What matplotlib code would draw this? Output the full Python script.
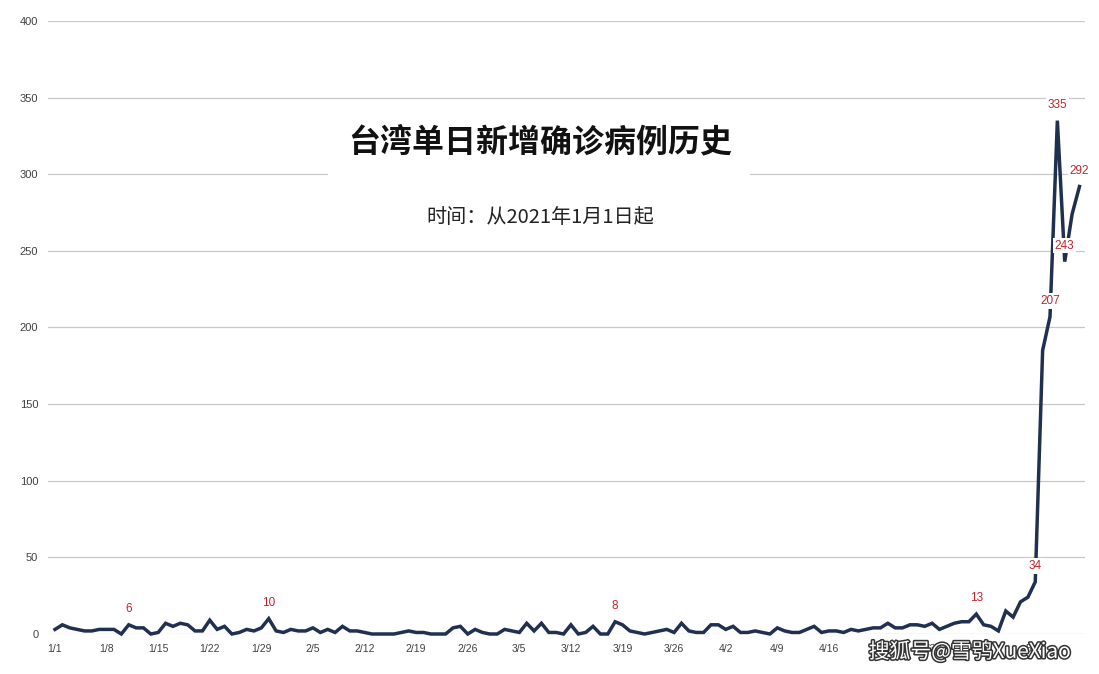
import matplotlib
matplotlib.use("Agg")
import matplotlib.pyplot as plt
import matplotlib.patheffects as pe
from matplotlib.patches import Rectangle
import pandas as pd

plt.rcParams['font.family'] = ['Noto Sans CJK SC', 'DejaVu Sans']

start_date = '2021-01-01'
cases_jan = [3, 6, 4, 3, 2, 2, 3, 3, 3, 0, 6, 4, 4, 0, 1, 7, 5, 7, 6, 2, 2, 9, 3, 5, 0, 1, 3, 2, 4, 10, 2]
cases_feb_mar4 = [1, 3, 2, 2, 4, 1, 3, 1, 5, 2, 2, 1, 0, 0, 0, 0, 1, 2, 1, 1, 0, 0, 0, 4, 5, 0, 3, 1, 0, 0, 3, 2]
cases_mar5_apr5 = [1, 7, 2, 7, 1, 1, 0, 6, 0, 1, 5, 0, 0, 8, 6, 2, 1, 0, 1, 2, 3, 1, 7, 2, 1, 1, 6, 6, 3, 5, 1, 1]
cases_apr6_may14 = [2, 1, 0, 4, 2, 1, 1, 3, 5, 1, 2, 2, 1, 3, 2, 3, 4, 4, 7, 4, 4, 6, 6, 5, 7, 3, 5, 7, 8, 8,
                    13, 6, 5, 2, 15, 11, 21, 24, 34]
cases_may15_20 = [185, 207, 335, 243, 274, 292]
cases = cases_jan + cases_feb_mar4 + cases_mar5_apr5 + cases_apr6_may14 + cases_may15_20

labeled_dates = ['2021-01-11', '2021-01-30', '2021-03-18', '2021-05-06', '2021-05-14',
                 '2021-05-16', '2021-05-17', '2021-05-18', '2021-05-20']

y_ticks = [0, 50, 100, 150, 200, 250, 300, 350, 400]
title = '台湾单日新增确诊病例历史'
subtitle = '时间：从2021年1月1日起'
watermark = '搜狐号@雪鸮XueXiao'

dates = pd.date_range(start_date, periods=len(cases))
x = list(range(len(cases)))
tick_pos = x[::7]
tick_labels = [f"{dates[i].month}/{dates[i].day}" for i in tick_pos]

W, H = 1099, 674
fig = plt.figure(figsize=(W / 100, H / 100), dpi=100)
ax = fig.add_axes([48 / W, 1 - 634 / H, (1085 - 48) / W, (634 - 21) / H])

lat = ['Liberation Sans', 'DejaVu Sans']
line_color = '#1F3050'
label_color = '#C0262D'

ax.plot(x, cases, color=line_color, lw=2.5, solid_joinstyle='miter', zorder=3, clip_on=False)

for d in labeled_dates:
    i = list(dates).index(pd.Timestamp(d))
    ax.annotate(str(cases[i]), (x[i], cases[i]), xytext=(0, 11.5), textcoords='offset points',
                ha='center', va='center', fontsize=8.5, color=label_color, family=lat,
                bbox=dict(boxstyle='square,pad=0.15', fc='white', ec='none'), zorder=4)

ax.set_xlim(-0.95, 139.75)
ax.set_ylim(0, 400)
ax.set_yticks(y_ticks)
ax.set_yticklabels([str(t) for t in y_ticks], family=lat, fontsize=8, color='#404040')
ax.set_xticks(tick_pos)
ax.set_xticklabels(tick_labels, family=lat, fontsize=7.5, color='#404040')
ax.tick_params(axis='both', length=0)
ax.tick_params(axis='y', pad=7)
ax.tick_params(axis='x', pad=7)
ax.grid(axis='y', color='#C8C8C8', lw=0.9)
ax.set_axisbelow(True)
for s in ax.spines.values():
    s.set_visible(False)

# title area with white background
fig.add_artist(Rectangle((328 / W, 1 - 240 / H), (750 - 328) / W, (240 - 110) / H,
                         transform=fig.transFigure, fc='white', ec='none', zorder=2))
fig.text(540 / W, 1 - 142 / H, title, ha='center', va='center', fontsize=23,
         fontweight='bold', color='#111111', zorder=3)
fig.text(540 / W, 1 - 217 / H, subtitle, ha='center', va='center', fontsize=14.5,
         color='#222222', zorder=3)

fig.text(970 / W, 1 - 652 / H, watermark, ha='center', va='center', fontsize=15,
         color='white', zorder=5,
         path_effects=[pe.withStroke(linewidth=2.2, foreground='#333333')])

fig.savefig('out.png', dpi=100)
